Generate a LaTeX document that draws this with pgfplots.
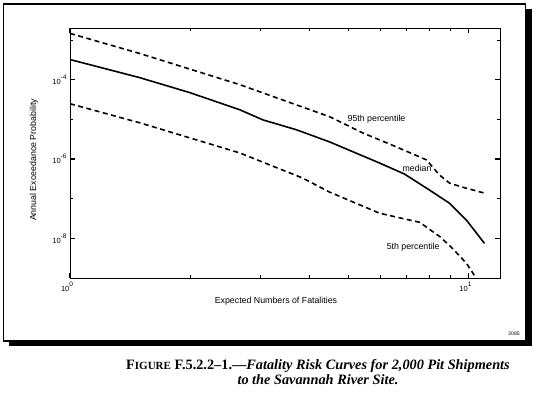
\documentclass[border=0pt]{standalone}
\usepackage{fontspec}
\setmainfont{Liberation Serif}
\setsansfont{Liberation Sans}
\usepackage{pgfplots}
\pgfplotsset{compat=1.18}
\newcommand{\tp}[1]{10\raisebox{5pt}{\fontsize{6.5}{6.5}\selectfont#1}}
\pgfplotstableread{
x y
1.000 3.21e-4
1.497 1.12e-4
2.000 4.69e-5
2.667 1.74e-5
3.046 9.7e-6
3.706 5.42e-6
4.484 2.69e-6
5.980 7.92e-7
6.910 4.17e-7
7.990 1.64e-7
8.960 7.69e-8
9.890 2.86e-8
10.97 7.46e-9
}\medtab
\pgfplotstableread{
x y
1.000 1.46e-3
1.497 4.55e-4
2.667 7.47e-5
4.484 1.16e-5
5.425 4.55e-6
6.600 2.01e-6
7.850 9.44e-7
8.460 3.94e-7
8.960 2.47e-7
9.660 1.95e-7
10.97 1.38e-7
}\uptab
\pgfplotstableread{
x y
1.000 2.47e-5
1.497 8.15e-6
2.667 1.42e-6
3.837 3.30e-7
4.484 1.46e-7
5.980 4.30e-8
6.790 3.21e-8
7.540 2.54e-8
8.460 1.12e-8
9.120 5.58e-9
9.890 2.33e-9
10.45 1.00e-9
}\lowtab
\begin{document}
\begin{tikzpicture}[x=1pt,y=1pt]
\useasboundingbox (0,0) rectangle (539,393);
\fill[black] (9,47) rectangle (532,384);
\draw[fill=white, line width=1.2pt] (3.5,52) rectangle (525.5,389);
\begin{axis}[at={(70pt,115pt)}, anchor=south west,
  width=430pt, height=250pt, scale only axis,
  xmode=log, ymode=log, xmin=1, xmax=12, ymin=1e-9, ymax=2e-3,
  xtick={1,10}, minor xtick={2,3,4,5,6,7,8,9},
  ytick={1e-8,1e-6,1e-4}, minor ytick={1e-7,1e-5,1e-3},
  xticklabels={{\tp{0}},{\tp{1}}},
  yticklabels={{\tp{-8}},{\tp{-6}},{\tp{-4}}},
  major tick length=5pt, minor tick length=3.5pt,
  major tick style={line width=1.3pt, black},
  minor tick style={line width=0.8pt, black},
  axis line style={line width=0.9pt},
  ticklabel style={font=\sffamily\fontsize{7.5}{8}\selectfont},
  xticklabel style={xshift=-3pt},
  label style={font=\sffamily\fontsize{8.8}{10}\selectfont},
  xlabel={Expected Numbers of Fatalities},
  ylabel={Annual Exceedance Probability},
  xlabel style={at={(axis description cs:0.479,-0.092)}, anchor=center},
  ylabel style={at={(axis description cs:-0.084,0.472)}, anchor=center, rotate=0},
  clip=false,
]
\addplot[black, line width=1.6pt] table[x=x,y=y] {\medtab};
\addplot[black, line width=1.6pt, dash pattern=on 5pt off 3.5pt] table[x=x,y=y] {\uptab};
\addplot[black, line width=1.6pt, dash pattern=on 5pt off 3.5pt] table[x=x,y=y] {\lowtab};
\node[anchor=west, font=\sffamily\fontsize{8.8}{10}\selectfont, inner sep=0pt] at (axis cs:4.97,1.03e-5) {95th percentile};
\node[anchor=west, font=\sffamily\fontsize{8.8}{10}\selectfont, inner sep=0pt] at (axis cs:6.83,5.92e-7) {median};
\node[anchor=west, font=\sffamily\fontsize{8.8}{10}\selectfont, inner sep=0pt] at (axis cs:6.23,5.92e-9) {5th percentile};
\end{axis}
\node[font=\sffamily\fontsize{5}{5}\selectfont] at (514,59) {2085};
\node[align=center, font=\bfseries\fontsize{14.3}{15}\selectfont] at (318,21) {F{\fontsize{11}{11}\selectfont IGURE} F.5.2.2--1.---\textit{Fatality Risk Curves for 2,000 Pit Shipments}\\ \textit{to the Savannah River Site.}};
\end{tikzpicture}
\end{document}
